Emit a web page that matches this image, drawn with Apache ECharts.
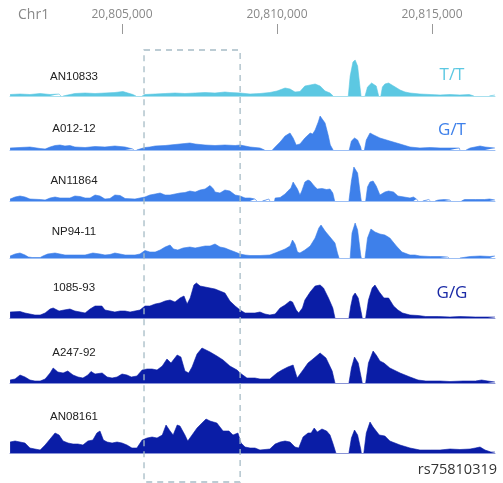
<!DOCTYPE html>
<html><head><meta charset="utf-8">
<script src="https://cdn.jsdelivr.net/npm/echarts@6/dist/echarts.min.js"></script>
<style>html,body{margin:0;padding:0;background:#fff}#c{width:503px;height:483px}</style>
</head><body><div id="c"></div>
<script>
// positions in kb from ORIGIN (Chr1), coverage in arbitrary units; null = no coverage (gap)
const ORIGIN = 20800000;
const X_MIN = 20801387, X_MAX = 20817032;
const TICKS = [20805000, 20810000, 20815000];
const HIGHLIGHT = [20805710, 20808810];
const samples = ['AN10833','A012-12','AN11864','NP94-11','1085-93','A247-92','AN08161'];
const genotypes = ['T/T','G/T','G/T','G/T','G/G','G/G','G/G'];
const snpLabel = 'rs75810319';

const T1 = [[1.39,1.5],[1.71,2],[2.03,1.5],[2.36,2.5],[2.68,1.5],[2.97,2],[3.03,0],[3.06,null],[3.1,0],[3.16,2],[3.48,2.5],[3.81,3],[4.13,2.5],[4.45,3],[4.77,3.5],[5.03,4.5],[5.19,3],[5.35,1.5],[5.45,0],[5.5,null],[5.65,0],[5.74,1.5],[6.07,2],[6.39,2.5],[6.71,3],[7.03,2.5],[7.36,3],[7.68,3.5],[8.0,3],[8.32,4],[8.48,3.5],[8.81,3],[9.13,2],[9.45,2.5],[9.77,3.5],[10.0,5],[10.26,8],[10.42,7],[10.58,4],[10.74,4.5],[10.9,10],[11.07,11],[11.23,12],[11.39,10],[11.55,5],[11.71,3],[11.81,0],[11.85,null],[12.3,0],[12.36,20],[12.45,34],[12.52,36],[12.6,30],[12.68,8],[12.71,0],[12.75,null],[12.84,0],[12.92,9],[13.05,13],[13.2,10],[13.28,0],[13.3,null],[13.35,0],[13.4,9],[13.48,12],[13.6,13],[13.76,10],[13.97,6],[14.13,4],[14.29,3],[14.61,2],[14.94,1.5],[15.26,1],[15.58,1.5],[15.9,1],[16.2,1.5],[16.35,0],[16.4,null],[16.85,0],[16.9,1],[17.03,1]];
const T2 = [[1.39,2],[1.71,2.5],[2.03,3],[2.36,1.5],[2.52,1],[2.68,3],[2.84,4.5],[3.0,5],[3.16,4],[3.32,4.5],[3.48,3],[3.81,2.5],[4.13,3.5],[4.45,3],[4.77,4],[5.1,3],[5.35,1],[5.38,0],[5.4,null],[5.47,0],[5.5,1.5],[5.74,2.5],[5.9,3],[6.07,4],[6.39,4.5],[6.71,5.5],[7.03,6.5],[7.19,7],[7.36,6],[7.68,5],[8.0,4.5],[8.32,5],[8.65,4.5],[8.81,5],[9.13,3],[9.45,2],[9.6,0],[9.65,null],[9.85,0],[9.94,3],[10.1,8],[10.26,14],[10.42,17],[10.52,12],[10.62,5],[10.74,6],[10.9,12],[11.07,17],[11.15,16],[11.23,20],[11.33,28],[11.39,34],[11.45,35],[11.55,27],[11.65,15],[11.72,5],[11.81,0],[11.85,null],[12.33,0],[12.4,9],[12.5,12],[12.6,10],[12.7,3],[12.72,0],[12.76,null],[12.82,0],[12.88,10],[13.0,17],[13.12,15],[13.32,12],[13.64,9],[13.97,6],[14.29,3],[14.61,2],[14.94,2.5],[15.26,2],[15.58,2],[15.88,2],[15.9,0],[15.95,null],[16.1,0],[16.23,2],[16.55,4],[16.71,3],[17.03,2]];
const T3 = [[1.39,2],[1.55,4],[1.71,5],[1.87,4],[2.03,2],[2.36,1.5],[2.52,1],[2.68,3],[2.84,4],[3.0,3],[3.32,3],[3.48,5],[3.65,4.5],[3.81,3],[3.97,3],[4.13,6],[4.29,5],[4.45,2],[4.61,2.5],[4.77,6],[4.94,5.5],[5.1,2.5],[5.42,2],[5.58,3],[5.74,4],[5.9,6],[6.07,7],[6.23,8],[6.39,6],[6.55,6],[6.71,7],[6.87,8],[7.03,8.5],[7.19,10],[7.36,9],[7.52,11],[7.68,12],[7.84,15.5],[7.95,12],[8.0,9],[8.16,8],[8.32,11],[8.48,10],[8.65,6],[8.81,5],[8.97,3],[9.13,3],[9.29,2],[9.35,0],[9.4,null],[9.53,0],[9.58,2],[9.74,2],[9.77,0],[9.8,null],[9.92,0],[9.94,3],[10.1,3.5],[10.26,7],[10.35,10],[10.45,13],[10.52,19],[10.58,20],[10.66,12],[10.74,6],[10.8,10],[10.9,19],[11.0,21],[11.07,20],[11.2,15],[11.3,12],[11.45,12.5],[11.6,11.5],[11.71,12],[11.8,8],[11.86,0],[11.9,null],[12.32,0],[12.4,20],[12.48,34],[12.52,36],[12.6,28],[12.7,4],[12.72,0],[12.76,null],[12.86,0],[12.92,14],[13.0,19],[13.1,20],[13.2,15],[13.32,6],[13.48,9],[13.6,10],[13.76,9],[13.9,5],[14.1,4],[14.29,3],[14.4,4],[14.5,2],[14.55,0],[14.6,null],[14.7,0],[14.76,2],[14.9,1.5],[14.95,0],[15.0,null],[15.1,0],[15.2,1],[15.4,1.5],[15.58,1],[15.6,0],[15.65,null],[15.95,0],[16.05,1.5],[16.4,1.5],[16.7,1.5],[16.85,2],[17.03,1]];
const T4 = [[1.39,2],[1.55,4],[1.71,5],[1.87,3],[1.98,1],[2.1,0.5],[2.36,0.5],[2.45,2],[2.6,4],[2.84,5],[3.0,4],[3.16,3],[3.48,3],[3.81,3],[4.06,5],[4.29,4],[4.45,3],[4.61,3.5],[4.77,5],[4.94,4],[5.1,3],[5.42,3],[5.58,4],[5.74,7.5],[5.9,6],[6.07,6],[6.23,8],[6.39,11],[6.55,13],[6.66,9],[6.8,8],[6.97,10],[7.19,11],[7.36,10],[7.52,11],[7.68,12],[7.84,12],[8.0,14],[8.16,11],[8.32,10],[8.48,8],[8.65,6],[8.81,4],[8.97,3],[9.13,2.5],[9.45,2.5],[9.77,3],[9.94,5],[10.1,7],[10.26,9],[10.42,12],[10.5,18],[10.58,14],[10.66,6],[10.74,5],[10.9,8],[11.07,12],[11.23,20],[11.35,30],[11.42,33],[11.55,27],[11.71,21],[11.87,15],[11.95,5],[12.0,0],[12.04,null],[12.36,0],[12.42,25],[12.52,35],[12.6,28],[12.7,3],[12.72,0],[12.76,null],[12.84,0],[12.92,20],[13.03,29],[13.16,26],[13.32,24],[13.48,23],[13.64,20],[13.85,12],[14.03,6],[14.29,3],[14.45,3],[14.61,2],[14.94,1.5],[15.26,1.5],[15.5,1],[15.55,0],[15.6,null],[15.9,0],[15.95,1.5],[16.23,1.5],[16.55,2],[16.87,1.5],[17.03,2]];
const T5 = [[1.39,6],[1.71,6.5],[1.87,5],[2.03,4],[2.19,3],[2.36,3],[2.52,5],[2.68,9],[2.78,10],[2.97,7],[3.13,8],[3.32,9],[3.48,7],[3.65,6],[3.81,5],[3.97,9],[4.13,12],[4.35,12],[4.45,8],[4.61,7],[4.77,6],[4.94,7],[5.1,7],[5.26,6],[5.42,7],[5.58,8],[5.74,12],[5.9,12],[6.07,14],[6.23,15],[6.39,17],[6.55,18],[6.71,16],[6.87,20],[7.0,22],[7.1,14],[7.2,20],[7.32,33],[7.4,35],[7.52,32],[7.68,31],[7.84,30],[8.0,29],[8.16,27],[8.32,25],[8.48,17],[8.65,12],[8.81,8],[8.97,5],[9.13,5],[9.29,5],[9.45,6],[9.61,4],[9.77,3],[9.94,4],[10.1,10],[10.26,13],[10.42,17],[10.5,16],[10.62,8],[10.7,5],[10.82,10],[10.9,18],[11.07,26],[11.23,32],[11.39,33],[11.5,30],[11.66,20],[11.8,10],[11.87,0],[11.9,null],[12.32,0],[12.38,12],[12.45,22],[12.52,25],[12.62,20],[12.72,5],[12.75,0],[12.78,null],[12.86,0],[12.95,18],[13.07,30],[13.16,33],[13.3,26],[13.45,20],[13.6,20],[13.76,12],[13.9,8],[14.05,5],[14.29,3],[14.55,2.5],[14.8,1.5],[15.2,1.5],[15.58,1],[15.9,1.5],[16.4,1],[16.8,1],[17.03,1]];
const T6 = [[1.39,3],[1.55,4],[1.71,8],[1.87,6],[2.03,3],[2.19,2],[2.36,2],[2.52,4],[2.68,10],[2.78,15],[2.93,11],[3.1,10],[3.25,12],[3.42,8],[3.58,6],[3.74,5],[3.9,8],[4.0,11.5],[4.13,9],[4.36,10],[4.52,6],[4.68,5],[4.84,6],[5.0,9],[5.16,8],[5.3,6],[5.48,7],[5.65,13],[5.81,14],[5.97,14],[6.13,13],[6.3,17],[6.45,24],[6.58,20],[6.78,28],[6.9,26],[7.03,12],[7.15,10],[7.26,16],[7.42,29],[7.58,35],[7.84,31],[8.06,27],[8.26,23],[8.48,17],[8.71,13],[8.81,10],[9.03,5],[9.29,5],[9.45,4],[9.77,4],[10.0,10],[10.16,13],[10.35,16],[10.52,18],[10.65,5],[10.84,13],[11.0,20],[11.16,24],[11.39,30],[11.58,25],[11.78,12],[11.87,0],[11.9,null],[12.32,0],[12.4,15],[12.5,26],[12.62,20],[12.72,5],[12.75,0],[12.78,null],[12.86,0],[12.95,20],[13.1,32],[13.2,28],[13.32,22],[13.45,20],[13.64,15],[13.97,10],[14.29,6],[14.55,3],[14.8,2],[15.26,2],[15.58,1.5],[16.0,2],[16.4,2],[16.6,3],[16.8,2],[17.03,1]];
const T7 = [[1.39,11],[1.55,12],[1.71,11],[1.87,10],[2.03,5],[2.19,4],[2.36,3],[2.52,8],[2.68,14],[2.84,20],[2.97,18],[3.1,12],[3.26,10],[3.42,9],[3.58,9],[3.74,8],[3.9,12],[4.06,13],[4.19,20],[4.29,22],[4.4,13],[4.52,11],[4.68,10],[4.84,11],[5.0,10],[5.16,8],[5.32,5],[5.48,5],[5.65,13],[5.81,15],[5.97,16],[6.13,15],[6.3,18],[6.42,28],[6.55,22],[6.65,18],[6.78,28],[6.87,27],[7.03,18],[7.12,12],[7.26,18],[7.42,25],[7.58,30],[7.71,34],[7.84,32],[8.06,30],[8.26,22],[8.45,22],[8.58,18],[8.74,20],[8.84,10],[8.97,6],[9.13,5],[9.29,5],[9.45,3],[9.77,4],[9.94,9],[10.1,11],[10.26,12],[10.42,11],[10.58,6],[10.7,5],[10.84,16],[11.0,20],[11.1,20],[11.2,25],[11.3,21],[11.45,24],[11.6,22],[11.71,18],[11.8,10],[11.9,0],[11.93,null],[12.32,0],[12.4,15],[12.5,23],[12.6,18],[12.7,4],[12.72,0],[12.76,null],[12.8,0],[12.88,20],[13.0,31],[13.1,26],[13.3,18],[13.48,17],[13.64,12],[13.97,8],[14.29,5],[14.61,3],[14.94,3],[15.26,3],[15.58,4],[15.9,3.5],[16.23,4],[16.4,5],[16.55,6],[16.71,3],[16.9,1],[17.03,1]];
const tracks = [T1,T2,T3,T4,T5,T6,T7];

// styling / layout
const fill = ['#5cc8e2','#3e80ea','#3e80ea','#3e80ea','#0a1da6','#0a1da6','#0a1da6'];
const baseLine = ['#a8e0ee','#9dbff4','#9dbff4','#9dbff4','#8a94d6','#8a94d6','#8a94d6'];
const baselines = [96, 150, 201, 258, 318, 383, 453];
const labelY = [77, 129, 181, 232, 288, 353, 417];
const TRACK_H = 40;
const L = 10, R = 8;

function fmt(v){ return String(v).replace(/\B(?=(\d{3})+(?!\d))/g, ','); }

const grid = [{left:L, right:R, top:33, height:1}];
const xAxis = [{
  gridIndex:0, type:'value', min:X_MIN, max:X_MAX, position:'top',
  axisLine:{show:false}, splitLine:{show:false},
  axisTick:{show:true, customValues:TICKS, length:10, lineStyle:{color:'#999', width:1}},
  axisLabel:{show:true, customValues:TICKS, formatter:fmt, margin:12, color:'#888', fontSize:12, fontFamily:'Open Sans'}
}];
const yAxis = [{gridIndex:0, show:false}];
const series = [];
tracks.forEach((t,i)=>{
  grid.push({left:L, right:R, top:baselines[i]-TRACK_H, height:TRACK_H});
  xAxis.push({gridIndex:i+1, type:'value', min:X_MIN, max:X_MAX,
    axisLine:{show:true, lineStyle:{color:baseLine[i], width:1}},
    axisTick:{show:false}, axisLabel:{show:false}, splitLine:{show:false}});
  yAxis.push({gridIndex:i+1, type:'value', min:0, max:TRACK_H, show:false});
  series.push({
    type:'line', xAxisIndex:i+1, yAxisIndex:i+1, showSymbol:false, smooth:false,
    connectNulls:false, animation:false,
    lineStyle:{color:fill[i], width:0.6}, areaStyle:{color:fill[i], opacity:1},
    data: t.map(p => [ORIGIN + Math.round(p[0]*1000), p[1] === null ? '-' : p[1]])
  });
});

const graphic = [
  {type:'text', x:18, y:15, style:{text:'Chr1', fill:'#888', font:'14px "Open Sans"', textVerticalAlign:'middle'}}
];
samples.forEach((s,i)=>{
  graphic.push({type:'text', x:74, y:labelY[i], style:{text:s, fill:'#222', font:'11.5px "Liberation Sans"', textAlign:'center', textVerticalAlign:'middle'}});
});
const gtShown = [[0,'#5cc8e2',75],[1,'#3e80ea',130],[4,'#1a2aa6',293]];
gtShown.forEach(g=>{
  graphic.push({type:'text', x:452, y:g[2], style:{text:genotypes[g[0]], fill:g[1], font:'17px "Open Sans"', textAlign:'center', textVerticalAlign:'middle'}});
});
graphic.push({type:'text', x:497, y:470, style:{text:snpLabel, fill:'#333', font:'14.5px "Open Sans"', textAlign:'right', textVerticalAlign:'middle'}});

const chart = echarts.init(document.getElementById('c'), null, {renderer:'canvas'});
chart.setOption({animation:false, grid, xAxis, yAxis, series, graphic});

const x1 = chart.convertToPixel({xAxisIndex:1}, HIGHLIGHT[0]);
const x2 = chart.convertToPixel({xAxisIndex:1}, HIGHLIGHT[1]);
graphic.push({type:'rect', shape:{x:x1, y:50, width:x2-x1, height:432}, z:10,
  style:{fill:'none', stroke:'#a6bcc6', lineWidth:1.3, lineDash:[6,5]}});
chart.setOption({graphic});
</script></body></html>
